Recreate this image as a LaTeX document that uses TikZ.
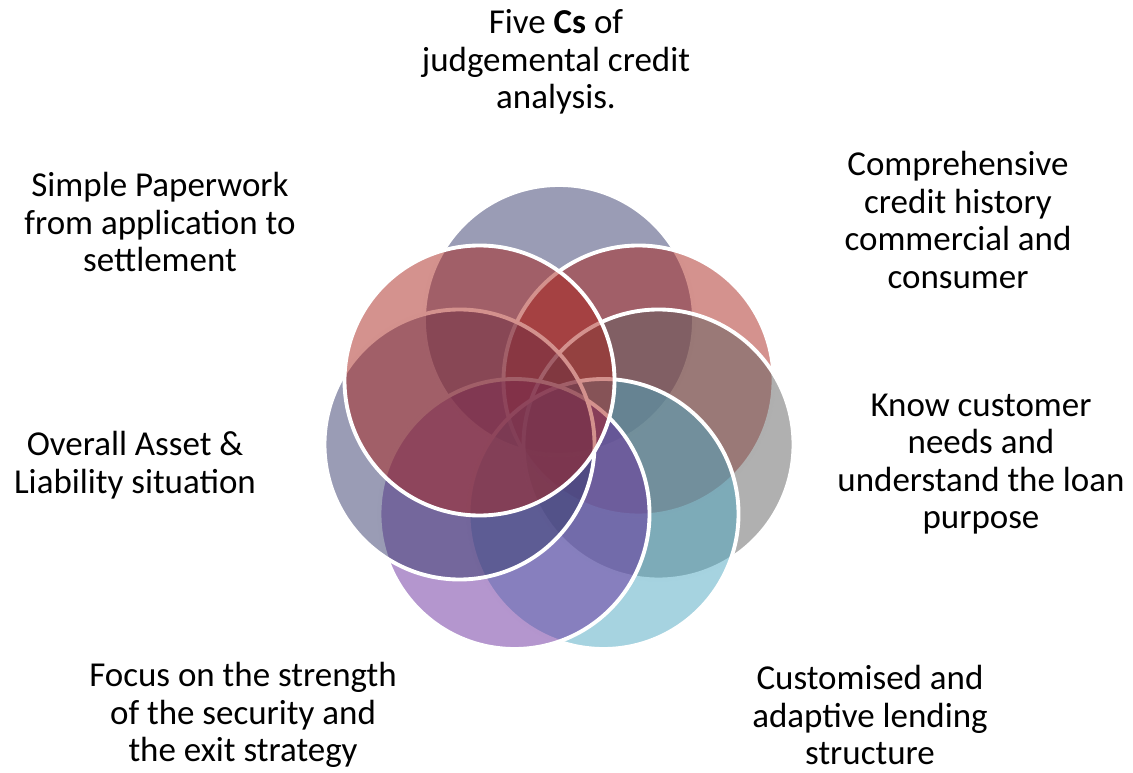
\documentclass[tikz,border=0pt]{standalone}
\usepackage{fontspec}
\setmainfont{Carlito}

\definecolor{slate}{RGB}{53,57,107}
\definecolor{brick}{RGB}{169,37,29}
\definecolor{ash}{RGB}{97,97,97}
\definecolor{aqua}{RGB}{77,167,193}
\definecolor{lilac}{RGB}{105,45,157}

\begin{document}
\begin{tikzpicture}[
    blob/.style={draw=white, line width=2.2pt, fill opacity=0.5},
    caption/.style={align=center, inner sep=0pt, font=\fontsize{19.9}{21.3}\selectfont}
]
        \useasboundingbox (0,0) rectangle (22.66,15.44);

        \draw [blob, fill=slate] (11.18,9.04) circle [radius=2.7];
        \draw [blob, fill=brick] (12.77,7.83) circle [radius=2.7];
        \draw [blob, fill=ash] (13.17,6.55) circle [radius=2.7];
        \draw [blob, fill=aqua] (12.07,5.16) circle [radius=2.7];
        \draw [blob, fill=lilac] (10.29,5.16) circle [radius=2.7];
        \draw [blob, fill=slate] (9.19,6.55) circle [radius=2.7];
        \draw [blob, fill=brick] (9.59,7.83) circle [radius=2.7];

        \node [caption] (five) at (11.12,14.20) {Five \textbf{Cs} of\\judgemental credit\\analysis.};
        \node [caption] (history) at (19.16,11.04) {Comprehensive\\credit history\\commercial and\\consumer};
        \node [caption] (needs) at (19.62,6.16) {Know customer\\needs and\\understand the loan\\purpose};
        \node [caption] (structure) at (17.40,1.14) {Customised and\\adaptive lending\\structure};
        \node [caption] (security) at (4.86,1.14) {Focus on the strength\\of the security and\\the exit strategy};
        \node [caption] (asset) at (2.70,6.14) {Overall Asset \&\\Liability situation};
        \node [caption] (paperwork) at (3.20,11.00) {Simple Paperwork\\from application to\\settlement};

    \end{tikzpicture}
\end{document}
